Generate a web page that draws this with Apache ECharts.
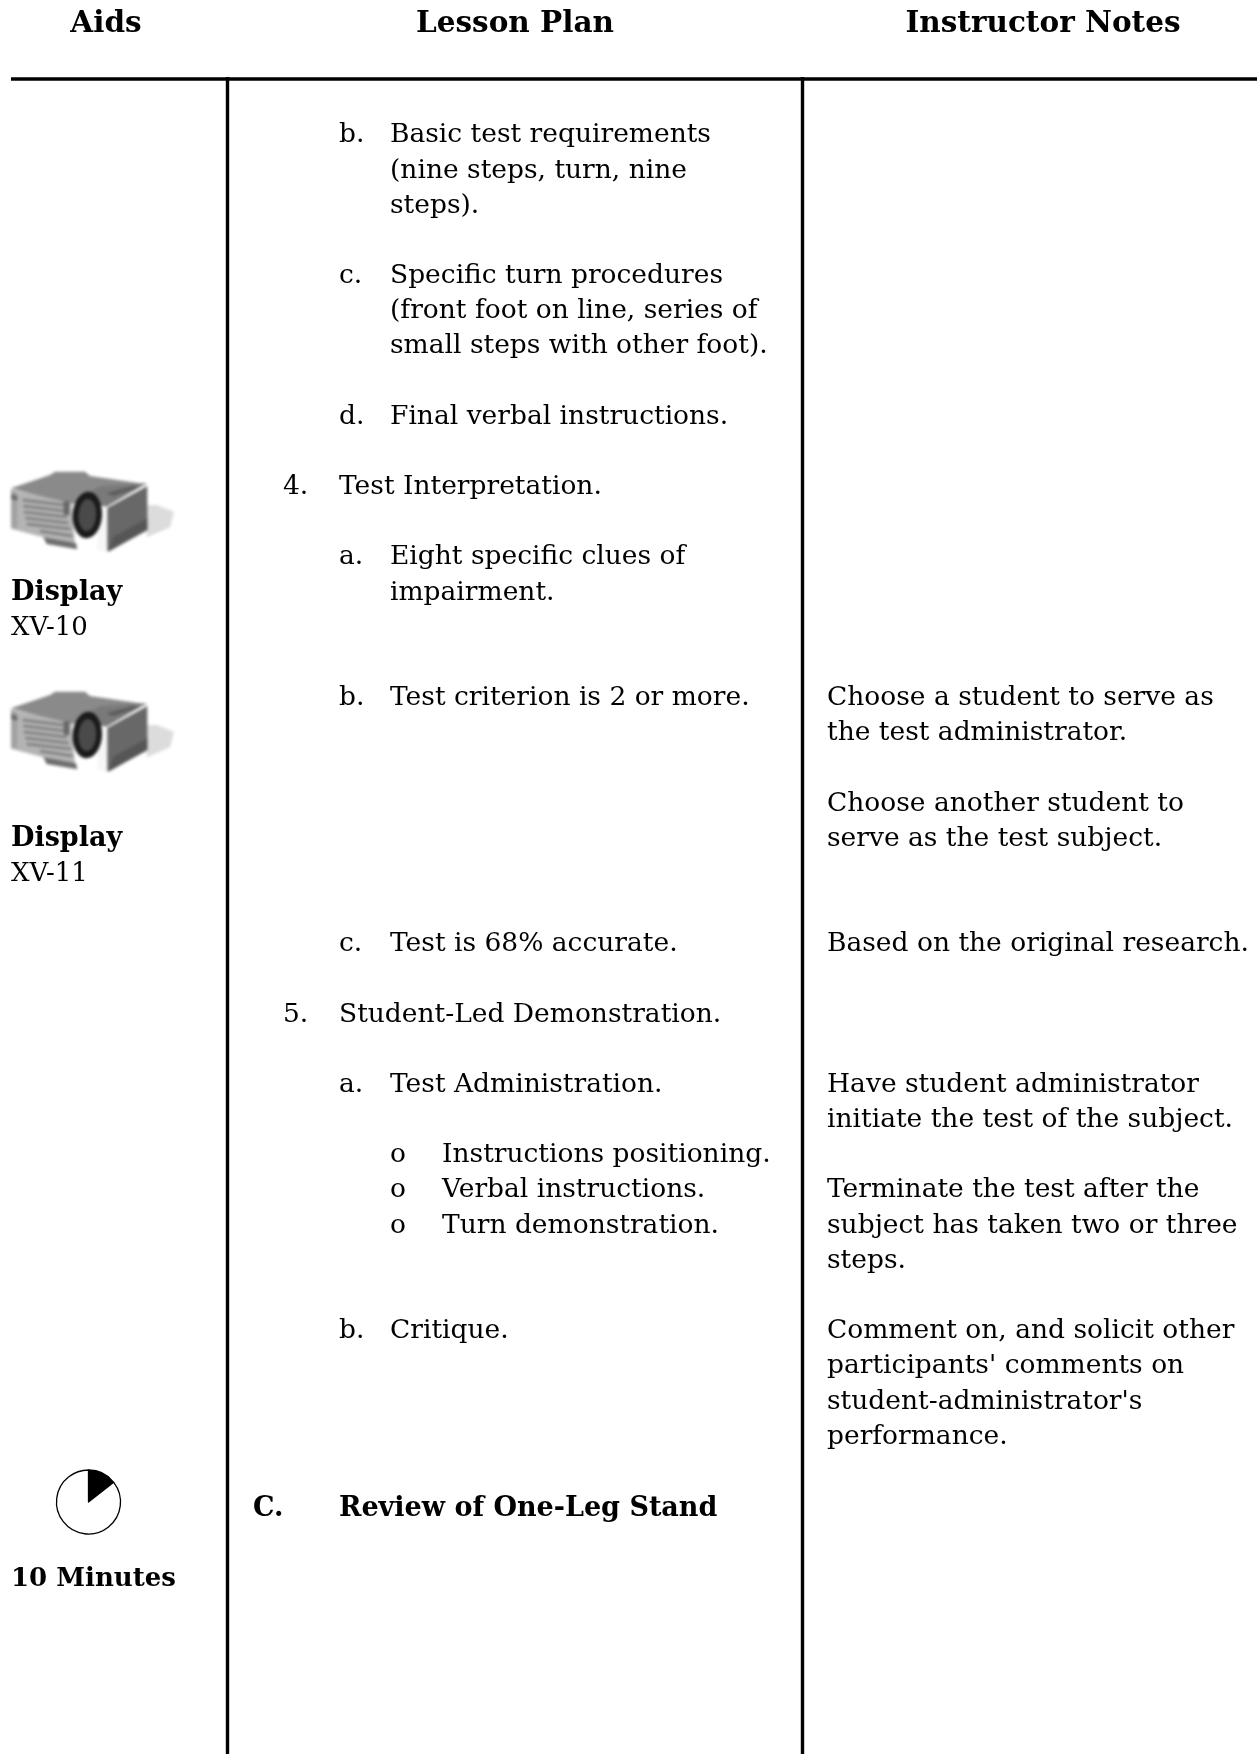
<!DOCTYPE html>
<html><head><meta charset="utf-8">
<style>html,body{margin:0;padding:0;background:#fff}#c{width:1257px;height:1754px}</style>
<script src="https://cdn.jsdelivr.net/npm/echarts@6/dist/echarts.min.js"></script>
</head><body><div id="c"></div>
<script>
var pageWidth = 1257, pageHeight = 1754;
var FONT = '"DejaVu Serif"';
var SIZE = 26.5;

var columns = {aids: 11, head: 253, num: 283, letter: 339, sub: 390, dot: 390, bullet: 442, notes: 827};

var lessonLines = [
  [0,'letter','b.'],[0,'sub','Basic test requirements'],
  [1,'sub','(nine steps, turn, nine'],
  [2,'sub','steps).'],
  [4,'letter','c.'],[4,'sub','Specific turn procedures'],
  [5,'sub','(front foot on line, series of'],
  [6,'sub','small steps with other foot).'],
  [8,'letter','d.'],[8,'sub','Final verbal instructions.'],
  [10,'num','4.'],[10,'letter','Test Interpretation.'],
  [12,'letter','a.'],[12,'sub','Eight specific clues of'],
  [13,'sub','impairment.'],
  [16,'letter','b.'],[16,'sub','Test criterion is 2 or more.'],
  [23,'letter','c.'],[23,'sub','Test is 68% accurate.'],
  [25,'num','5.'],[25,'letter','Student-Led Demonstration.'],
  [27,'letter','a.'],[27,'sub','Test Administration.'],
  [29,'dot','o'],[29,'bullet','Instructions positioning.'],
  [30,'dot','o'],[30,'bullet','Verbal instructions.'],
  [31,'dot','o'],[31,'bullet','Turn demonstration.'],
  [34,'letter','b.'],[34,'sub','Critique.']
];
var noteLines = [
  [16,'Choose a student to serve as'],[17,'the test administrator.'],
  [19,'Choose another student to'],[20,'serve as the test subject.'],
  [23,'Based on the original research.'],
  [27,'Have student administrator'],[28,'initiate the test of the subject.'],
  [30,'Terminate the test after the'],[31,'subject has taken two or three'],[32,'steps.'],
  [34,'Comment on, and solicit other'],[35,"participants' comments on"],[36,"student-administrator's"],[37,'performance.']
];
var aidLines = [
  [13,'Display',true],[14,'XV-10',false],
  [20,'Display',true],[21,'XV-11',false]
];
var boldLines = [[39.05,'head','C.'],[39.05,'letter','Review of One-Leg Stand']];
var tenMinutes = [[41.05,'10 Minutes']];
var headers = [['Aids',106],['Lesson Plan',515],['Instructor Notes',1043]];
var clockSlices = [52, 308];

var rowHeight = 35.17, firstRow = 135.5;
function rowY(r){ return firstRow + r * rowHeight; }

function textPoint(x, r, text, bold, align, size){
  return {value:[x, rowY(r)], label:{show:true, formatter:function(){return text;}, position:'inside', align:align||'left',
    verticalAlign:'middle', fontFamily:FONT, fontSize:size||SIZE, fontWeight:bold?'bold':'normal', color:'#000', opacity:1}};
}
var pts = [];
lessonLines.forEach(function(l){ pts.push(textPoint(columns[l[1]], l[0], l[2], false)); });
noteLines.forEach(function(l){ pts.push(textPoint(columns.notes, l[0], l[1], false)); });
aidLines.forEach(function(l){ pts.push(textPoint(columns.aids, l[0], l[1], l[2], 'left', l[2]?27:26)); });
boldLines.forEach(function(l){ pts.push(textPoint(columns[l[1]], l[0], l[2], true, 'left', 27)); });
tenMinutes.forEach(function(l){ pts.push(textPoint(columns.aids, l[0], l[1], true, 'left', 26)); });
headers.forEach(function(h){
  var p = textPoint(h[1], 0, h[0], true, 'center', 29.5);
  p.value = [h[1], 24];
  pts.push(p);
});

function rule(a, b, w){
  return {type:'line', data:[a,b], symbol:'none', silent:true, animation:false, lineStyle:{color:'#000', width:w}, z:3};
}

// The projector clip-art: soft, blurred grey picture painted once and placed twice.
function makeProjector(){
  var s = document.createElement('canvas'); s.width = 200; s.height = 120;
  var c = s.getContext('2d');
  c.scale(1/3, 1/3);
  function P(pts, f){ c.fillStyle=f; c.beginPath(); pts.forEach(function(p,i){ i?c.lineTo(p[0],p[1]):c.moveTo(p[0],p[1]); }); c.closePath(); c.fill(); }
  function E(x,y,a,b,f){ c.fillStyle=f; c.beginPath(); c.ellipse(x,y,a,b,0.06,0,Math.PI*2); c.fill(); }
  function L(a,b,d,e,col,w){ c.strokeStyle=col; c.lineWidth=w; c.beginPath(); c.moveTo(a,b); c.lineTo(d,e); c.stroke(); }
  P([[440,165],[470,165],[522,185],[510,232],[440,262]], '#dcdcdc');
  P([[33,115],[150,75],[165,65],[255,65],[270,78],[440,103],[330,130],[225,158],[215,165]], '#8a8a8a');
  P([[33,118],[215,160],[225,285],[130,262],[33,236]], '#b4b4b4');
  P([[33,120],[52,128],[52,235],[33,232]], '#a2a2a2');
  P([[33,132],[52,138],[52,152],[33,147]], '#6a6a6a');
  [[68,150,190,165],[70,168,195,183],[72,186,200,201],[76,204,205,219],[80,222,212,237],[120,243,218,258]].forEach(function(g){ L(g[0],g[1],g[2],g[3],'#7c7c7c',7); });
  P([[190,155],[208,152],[208,195],[192,195]], '#666666');
  P([[130,262],[228,280],[232,298],[140,282]], '#6d6d6d');
  P([[320,175],[442,108],[442,240],[320,305]], '#686868');
  P([[340,260],[442,205],[442,240],[325,305]], '#565656');
  P([[225,152],[300,108],[440,100],[320,170]], '#7a7a7a');
  P([[318,130],[400,108],[420,112],[340,138]], '#5c5c5c');
  P([[298,176],[322,170],[322,306],[292,298]], '#f6f6f6');
  E(262,195,44,70,'#1a1a1a');
  E(262,195,27,48,'#4a4a4a');
  var o = document.createElement('canvas'); o.width = 200; o.height = 120;
  var d = o.getContext('2d');
  d.filter = 'blur(1.4px)';
  d.drawImage(s, 0, 0);
  return o;
}
var projectorImage = makeProjector();
function projector(top){
  return {type:'image', x:0, y:top, silent:true, style:{image:projectorImage, x:0, y:0, width:200, height:120}};
}

var chart = echarts.init(document.getElementById('c'), null, {renderer:'canvas'});
chart.setOption({
  animation:false,
  backgroundColor:'#fff',
  grid:{left:0, right:0, top:0, bottom:0},
  xAxis:{type:'value', min:0, max:pageWidth, show:false},
  yAxis:{type:'value', min:0, max:pageHeight, inverse:true, show:false},
  graphic:[projector(450), projector(670)],
  series:[
    {type:'scatter', symbolSize:0, silent:true, animation:false, data:pts, z:5, itemStyle:{opacity:1}},
    rule([11,79],[pageWidth,79],3.6),
    rule([227.5,77],[227.5,pageHeight],3.4),
    rule([802.5,77],[802.5,pageHeight],3.4),
    {type:'pie', silent:true, animation:false, center:[88.5,1502], radius:[0,32], startAngle:90, clockwise:true,
     label:{show:false}, labelLine:{show:false},
     data:[
       {value:clockSlices[0], itemStyle:{color:'#000', borderColor:'#000', borderWidth:1.3}},
       {value:clockSlices[1], itemStyle:{color:'#fff', borderColor:'#000', borderWidth:1.3}}
     ]}
  ]
});
</script></body></html>
